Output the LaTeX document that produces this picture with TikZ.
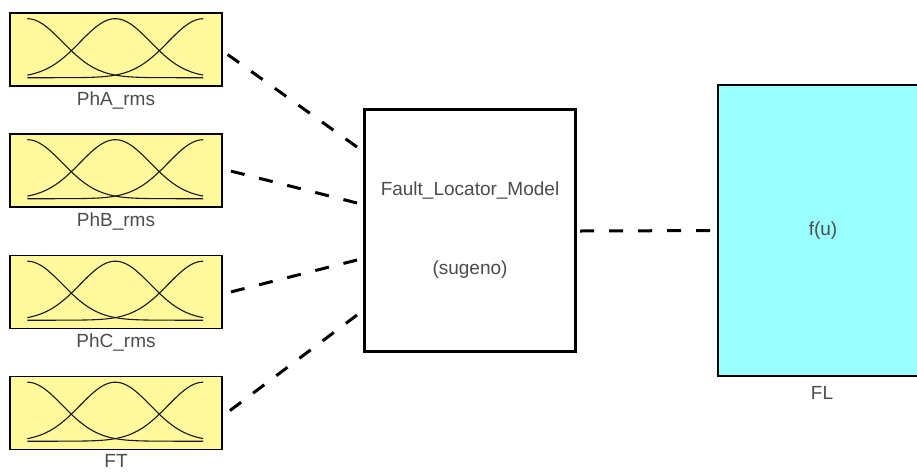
\documentclass[tikz,border=0pt]{standalone}
\usepackage{fontspec}
\setmainfont{Liberation Sans}
\definecolor{mfyellow}{HTML}{FFF89C}
\definecolor{fcncyan}{HTML}{99FFFF}
\begin{document}
\begin{tikzpicture}[x=1pt,y=-1pt,
  fuzzybox/.style={draw=black,line width=1.4pt,fill=mfyellow,minimum width=212pt,minimum height=73pt,inner sep=0pt},
  fisbox/.style={draw=black,line width=3.6pt,fill=white,minimum width=211pt,minimum height=242pt,inner sep=0pt},
  fcnbox/.style={draw=black,line width=1.4pt,fill=fcncyan,minimum width=210pt,minimum height=291pt,inner sep=0pt},
  lbl/.style={text=black!70,font=\fontsize{19}{21}\selectfont},
  wire/.style={line width=3pt,dash pattern=on 14pt off 15pt},
  mf/.style={line width=1.1pt,black!90}]
\clip (0,0) rectangle (917,472);
\fill[white] (0,0) rectangle (917,472);

% input membership-function blocks
\foreach \nm/\yy/\ly/\txt in {inA/49.5/100/PhA\_rms, inB/170.5/221/PhB\_rms, inC/292/342.5/PhC\_rms, inD/413/460.5/FT}{
  \node[fuzzybox] (\nm) at (116,\yy) {};
  \node[lbl,anchor=center] (\nm-lbl) at (116,\ly) {\txt};
  \begin{scope}[shift={(\nm.south west)}]
    \draw[mf] plot[domain=0:1,samples=70] ({18+176*\x},{-9-59*exp(-(\x)^2/0.08)});
    \draw[mf] plot[domain=0:1,samples=70] ({18+176*\x},{-9-59*exp(-(\x-0.5)^2/0.08)});
    \draw[mf] plot[domain=0:1,samples=70] ({18+176*\x},{-9-59*exp(-(\x-1)^2/0.08)});
  \end{scope}
}

% fuzzy inference system block
\node[fisbox] (fis) at (470,230.5) {};
\node[lbl] (fisname) at (470,190) {Fault\_Locator\_Model};
\node[lbl] (fistype) at (470,270) {(sugeno)};

% output function block
\node[fcnbox] (fcn) at (823,230.5) {};
\node[lbl] (fcntxt) at (823,231) {f(u)};
\node[lbl] (fcnlbl) at (822,393) {FL};

% input ports of the inference block
\coordinate (p1) at (357,147);
\coordinate (p2) at (357,203);
\coordinate (p3) at (357,260);
\coordinate (p4) at (357,315);
\coordinate (q) at (580,231);

% connections (drawn from the port side so a dash meets each port)
\draw[wire] (p1) -- ([yshift=-1.5pt]inA.east);
\draw[wire] (p2) -- ([yshift=1.5pt]inB.east);
\draw[wire] (p3) -- ([yshift=-2pt]inC.east);
\draw[wire] (p4) -- ([yshift=-3pt]inD.east);
\draw[wire] (q) -- (fcn.west);
\end{tikzpicture}
\end{document}
